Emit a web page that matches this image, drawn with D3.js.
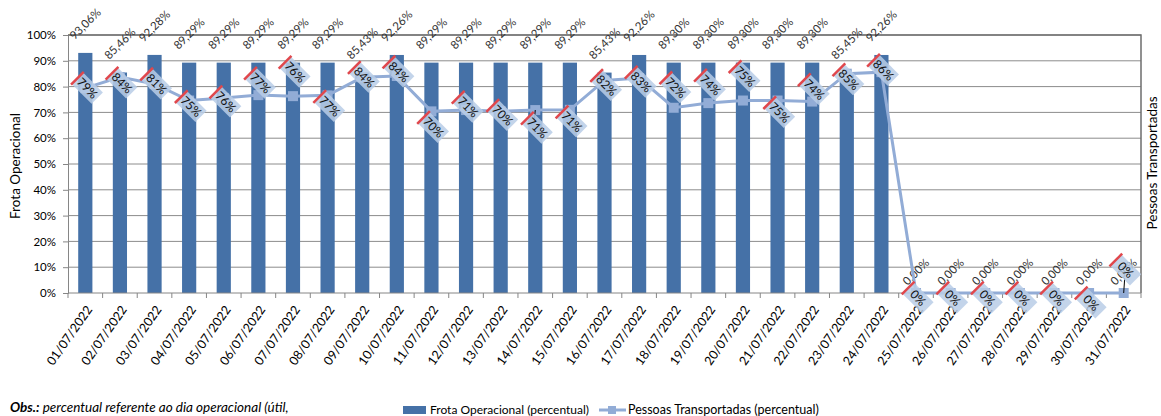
<!DOCTYPE html>
<html>
<head>
<meta charset="utf-8">
<script src="https://cdn.jsdelivr.net/npm/d3@7/dist/d3.min.js"></script>
<style>
  body { margin: 0; background: #fff; }
  text { font-family: Lato, "Open Sans", sans-serif; }
</style>
</head>
<body>
<script>
var width = 1161, height = 416;

var dias = ["01/07/2022", "02/07/2022", "03/07/2022", "04/07/2022", "05/07/2022", "06/07/2022",
    "07/07/2022", "08/07/2022", "09/07/2022", "10/07/2022", "11/07/2022", "12/07/2022",
    "13/07/2022", "14/07/2022", "15/07/2022", "16/07/2022", "17/07/2022", "18/07/2022",
    "19/07/2022", "20/07/2022", "21/07/2022", "22/07/2022", "23/07/2022", "24/07/2022",
    "25/07/2022", "26/07/2022", "27/07/2022", "28/07/2022", "29/07/2022", "30/07/2022",
    "31/07/2022"];

var frota = [93.06, 85.46, 92.28, 89.29, 89.29, 89.29, 89.29, 89.29, 85.43, 92.26,
    89.29, 89.29, 89.29, 89.29, 89.29, 85.43, 92.26, 89.30, 89.30, 89.30,
    89.30, 89.30, 85.45, 92.26, 0, 0, 0, 0, 0, 0, 0];

var pessoas = [79.4, 83.7, 81.0, 74.6, 75.6, 76.7, 76.3, 76.6, 83.6, 84.1,
    70.4, 70.9, 70.4, 70.9, 71.0, 82.4, 83.3, 71.8, 73.6, 74.6,
    74.6, 74.2, 85.0, 85.6, 0, 0, 0, 0, 0, 0, 0];

var yTicks = [0, 10, 20, 30, 40, 50, 60, 70, 80, 90, 100];

// nudges for the line labels (excel placed them by hand-ish)
var lblNudge = [0, 6, 0, 6, 4, -12, -24, 11, 0, -4, 16, -3, 4, 18, 12, 5, 4, -20, -18, -24,
    12, -12, 6, -2, 5, 5, 5, 5, 5, 10, -23];

var pLeft = 68, pRight = 1141, pTop = 35, pBottom = 293;

var svg = d3.select("body").append("svg")
    .attr("width", width)
    .attr("height", height);

svg.append("rect").attr("width", width).attr("height", height).style("fill", "white");

var x = d3.scaleBand().domain(dias).range([pLeft, pRight]);
var y = d3.scaleLinear().domain([0, 100]).range([pBottom, pTop]);

// grid + y axis
var yAxis = svg.append("g")
    .attr("transform", "translate(" + pLeft + ",0)")
    .call(d3.axisLeft(y).tickValues(yTicks).tickSize(5).tickFormat(function(d){ return d + "%"; }));
yAxis.select(".domain").style("stroke", "#868686");
yAxis.selectAll("line").style("stroke", "#868686");
yAxis.selectAll("text").style("font-size", "11.5px").style("fill", "#000").attr("x", -12);

svg.append("g").selectAll("line")
    .data(yTicks.slice(1))
    .enter().append("line")
    .attr("x1", pLeft).attr("x2", pRight)
    .attr("y1", function(d){ return y(d); })
    .attr("y2", function(d){ return y(d); })
    .style("stroke", "#8c8c8c").style("stroke-width", 1);

// frame top / right
svg.append("path")
    .attr("d", "M" + pLeft + "," + pTop + "H" + pRight + "V" + pBottom)
    .style("fill", "none").style("stroke", "#6e6e6e").style("stroke-width", 1.5);

// bars
var barW = x.bandwidth() * 0.41;
svg.append("g").selectAll("rect")
    .data(frota)
    .enter().append("rect")
    .attr("x", function(d, i){ return x(dias[i]) + (x.bandwidth() - barW) / 2; })
    .attr("y", function(d){ return y(d); })
    .attr("width", barW)
    .attr("height", function(d){ return pBottom - y(d); })
    .style("fill", "#4571a7");

// x axis
svg.append("line")
    .attr("x1", pLeft).attr("x2", pRight).attr("y1", pBottom).attr("y2", pBottom)
    .style("stroke", "#868686");
svg.append("g").selectAll("line")
    .data(dias.concat(["end"]))
    .enter().append("line")
    .attr("x1", function(d){ return d == "end" ? pRight : x(d); })
    .attr("x2", function(d){ return d == "end" ? pRight : x(d); })
    .attr("y1", pBottom).attr("y2", pBottom + 5)
    .style("stroke", "#868686");

var xAxis = svg.append("g")
    .attr("transform", "translate(0," + pBottom + ")")
    .call(d3.axisBottom(x).tickSize(0));
xAxis.select(".domain").remove();
xAxis.selectAll("text")
    .style("font-size", "12.5px").style("fill", "#000")
    .attr("text-anchor", "end")
    .attr("dy", "0.35em")
    .attr("y", 0)
    .attr("transform", "translate(4,14) rotate(-55)");

// bar labels
svg.append("g").selectAll("text")
    .data(frota)
    .enter().append("text")
    .attr("transform", function(d, i){
        var cx = x(dias[i]) + x.bandwidth() / 2;
        return "translate(" + cx + "," + (y(d) - (d > 0 ? 29 : 21)) + ") rotate(-45)";
    })
    .attr("text-anchor", "middle")
    .attr("dy", "0.35em")
    .style("font-size", "11.5px").style("fill", "#333")
    .text(function(d){ return d.toFixed(2).replace(".", ",") + "%"; });

// line
var line = d3.line()
    .x(function(d, i){ return x(dias[i]) + x.bandwidth() / 2; })
    .y(function(d){ return y(d); });

svg.append("path")
    .datum(pessoas)
    .attr("d", line)
    .style("fill", "none").style("stroke", "#92acd6").style("stroke-width", 3);

svg.append("g").selectAll("rect")
    .data(pessoas)
    .enter().append("rect")
    .attr("x", function(d, i){ return x(dias[i]) + x.bandwidth() / 2 - 5; })
    .attr("y", function(d){ return y(d) - 5; })
    .attr("width", 10).attr("height", 10)
    .style("fill", "#92acd6");

// leader lines
[13, 30].forEach(function(i){
    var cx = x(dias[i]) + x.bandwidth() / 2;
    var py = y(pessoas[i]);
    var dir = lblNudge[i] > 0 ? 1 : -1;
    svg.append("line")
        .attr("x1", cx).attr("x2", cx - dir)
        .attr("y1", py).attr("y2", py + lblNudge[i] - dir * 8)
        .style("stroke", "#000").style("stroke-width", 1);
});

// line labels
var lbl = svg.append("g").selectAll("g")
    .data(pessoas)
    .enter().append("g")
    .attr("transform", function(d, i){
        var cx = x(dias[i]) + x.bandwidth() / 2 + 2;
        return "translate(" + cx + "," + (y(d) + lblNudge[i]) + ") rotate(45)";
    });
lbl.append("rect")
    .attr("x", -14).attr("y", -8).attr("width", 28).attr("height", 16)
    .style("fill", "#b9cde6").style("opacity", 0.85);
lbl.append("line")
    .attr("x1", -14).attr("x2", -14).attr("y1", -9).attr("y2", 9)
    .style("stroke", "#e0474c").style("stroke-width", 2.5);
lbl.append("text")
    .attr("text-anchor", "middle").attr("dy", "0.35em")
    .style("font-size", "12px").style("fill", "#111")
    .text(function(d){ return Math.round(d) + "%"; });

// axis titles
svg.append("text")
    .attr("transform", "translate(20,166) rotate(-90)")
    .attr("text-anchor", "middle")
    .style("font-size", "13.5px")
    .text("Frota Operacional");
svg.append("text")
    .attr("transform", "translate(1157,163) rotate(-90)")
    .attr("text-anchor", "middle")
    .style("font-size", "13.5px")
    .text("Pessoas Transportadas");

// obs + legend
var obs = svg.append("text")
    .attr("x", 10).attr("y", 412)
    .style("font-size", "13.5px").style("font-style", "italic");
obs.append("tspan").style("font-weight", "bold").text("Obs.:");
obs.append("tspan").text(" percentual referente ao dia operacional (útil,");

svg.append("rect")
    .attr("x", 403).attr("y", 406).attr("width", 23).attr("height", 8)
    .style("fill", "#4571a7");
svg.append("text")
    .attr("x", 430).attr("y", 414)
    .style("font-size", "12px")
    .text("Frota Operacional (percentual)");
svg.append("line")
    .attr("x1", 599).attr("x2", 626).attr("y1", 410).attr("y2", 410)
    .style("stroke", "#92acd6").style("stroke-width", 3);
svg.append("rect")
    .attr("x", 608).attr("y", 406).attr("width", 8).attr("height", 8)
    .style("fill", "#92acd6");
svg.append("text")
    .attr("x", 628).attr("y", 414)
    .style("font-size", "12.5px")
    .text("Pessoas Transportadas (percentual)");
</script>
</body>
</html>
